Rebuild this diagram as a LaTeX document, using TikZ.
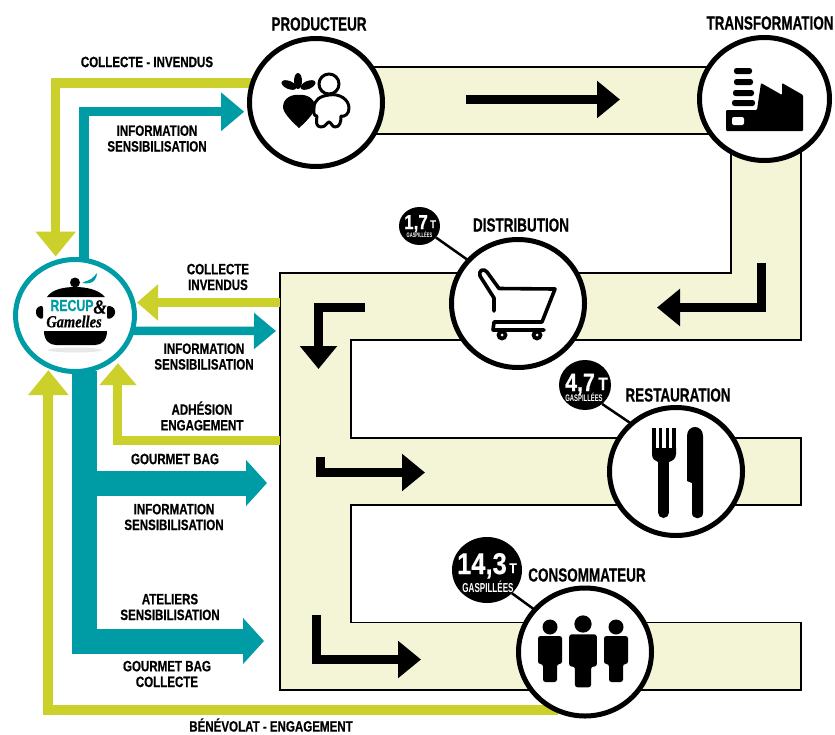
\documentclass[tikz,border=0pt]{standalone}
\usepackage{fontspec}
\usetikzlibrary{arrows.meta,backgrounds,shapes.geometric}
\newfontfamily\labelfont{Liberation Sans}[FakeStretch=0.77,FakeBold=0.5]
\newfontfamily\titlefont{Liberation Sans}[FakeStretch=0.71,FakeBold=0.5]
\newfontfamily\digitfont{Liberation Sans}[FakeStretch=0.85,FakeBold=0.5]
\newfontfamily\gaspifont{Liberation Sans}[FakeStretch=0.62]
\newfontfamily\gamellefont{Liberation Serif}[FakeStretch=0.85,FakeBold=0.5]
\definecolor{recupolive}{HTML}{CBD02A}
\definecolor{recupteal}{HTML}{009CA6}
\definecolor{recupcream}{HTML}{F4F5D7}
\tikzset{
  etape/.style={ellipse,draw=black,fill=white,line width=5pt,minimum width=133pt,minimum height=128pt,inner sep=0pt,outer sep=0pt},
  logorond/.style={ellipse,draw=recupteal,fill=white,line width=5pt,minimum width=119pt,minimum height=112pt,inner sep=0pt,outer sep=0pt},
  badge/.style={ellipse,fill=black,inner sep=0pt,outer sep=0pt},
  lbl/.style={font=\labelfont\bfseries\fontsize{15}{15.7}\selectfont,align=center,inner sep=0pt},
  titre/.style={font=\titlefont\bfseries\fontsize{19}{19}\selectfont,inner sep=0pt},
  chiffre/.style={text=white,anchor=base,inner sep=0pt,font=\digitfont\bfseries\fontsize{#1}{#1}\selectfont},
  gaspi/.style={text=white,anchor=base,inner sep=0pt,font=\gaspifont\bfseries\fontsize{#1}{#1}\selectfont},
  olivearrow/.style={draw=recupolive,line width=9.5pt,-{Triangle[length=25pt,width=39pt]}},
  tealarrow/.style={draw=recupteal,line width=9.5pt,-{Triangle[length=23pt,width=37pt]}},
  tealthick/.style={draw=recupteal,line width=25pt,-{Triangle[length=21pt,width=45pt]}},
  flowarrow/.style={draw=black,line width=9pt,-{Triangle[length=23pt,width=36pt]}},
}
\begin{document}
\begin{tikzpicture}[x=1pt,y=-1pt]
\useasboundingbox (0,0) rectangle (835,734);

\node[etape] (producteur) at (316,102.5) {};
\node[etape,minimum width=130pt,minimum height=123pt] (transformation) at (764.5,99) {};
\node[etape] (distribution) at (518,303.5) {};
\node[etape] (restauration) at (676,471.5) {};
\node[etape] (consommateur) at (585,652) {};
\node[logorond] (logo) at (75,315.5) {};
\node[badge,minimum width=41pt,minimum height=38pt] (badgeDistribution) at (419.5,226) {};
\node[badge,minimum width=52pt,minimum height=50pt] (badgeRestauration) at (585,385) {};
\node[badge,minimum width=70pt,minimum height=66pt] (badgeConsommateur) at (487,570) {};

\coordinate (chanCollecte) at (280,302.5);
\coordinate (chanInfo) at (276,331);
\coordinate (chanAdhesion) at (280,440.5);
\coordinate (chanGourmet) at (267,483);
\coordinate (chanAteliers) at (264,641);

\begin{scope}[on background layer]
\draw[fill=recupcream,line width=1.8pt] (316,67) -- (765,67) -- (801,67) -- (801,340) -- (351,340) -- (351,438) -- (801,438) -- (801,505) -- (351,505) -- (351,622.5) -- (801,622.5) -- (801,690) -- (280,690) -- (280,273) -- (731,273) -- (731,134) -- (316,134) -- cycle;
\draw[olivearrow,shorten >=6pt] (producteur.163) -| (logo.110);
\draw[tealarrow,shorten >=6pt] (logo.81) |- (producteur.188);
\draw[olivearrow,line width=9pt,-{Triangle[length=21pt,width=35pt]},shorten >=2.5pt] (chanCollecte) -- (chanCollecte -| logo.east);
\draw[tealarrow,line width=8.5pt,-{Triangle[length=22pt,width=35pt]}] (logo.345) -- (chanInfo);
\draw[olivearrow,line width=9pt,-{Triangle[length=22pt,width=36pt]},shorten >=9pt] (chanAdhesion) -| (logo.318);
\draw[olivearrow,line width=10pt,shorten >=4.5pt] (consommateur.245) -| (logo.242);
\draw[tealthick] (logo.280) |- (chanAteliers);
\draw[tealthick] (chanGourmet -| logo.280) -- (chanGourmet);
\end{scope}

\coordinate (flowA) at (466,99.5);
\coordinate (flowB) at (620,99.5);
\draw[flowarrow] (flowA) -- (flowB);
\coordinate (flowC) at (761.5,263);
\coordinate (flowD) at (657,307.5);
\draw[flowarrow] (flowC) |- (flowD);
\coordinate (flowE) at (365,307.5);
\coordinate (flowF) at (318.5,369);
\draw[flowarrow] (flowE) -| (flowF);
\coordinate (flowG) at (320.5,457);
\coordinate (flowH) at (425,472.5);
\draw[flowarrow] (flowG) |- (flowH);
\coordinate (flowI) at (316.5,615);
\coordinate (flowJ) at (421,659.5);
\draw[flowarrow] (flowI) |- (flowJ);

\draw[line width=2.5pt] (badgeDistribution.325) -- (distribution.139);
\draw[line width=2.5pt] (badgeRestauration.312) -- (restauration.133);
\draw[line width=2.5pt] (badgeConsommateur.317) -- (consommateur.140);

\node[lbl] (lblCollecteHaut) at (147,62) {COLLECTE - INVENDUS};
\node[lbl] (lblInfoHaut) at (157,138.5) {INFORMATION\\SENSIBILISATION};
\node[lbl] (lblCollecte) at (218,277) {COLLECTE\\INVENDUS};
\node[lbl] (lblInfo) at (204,356.5) {INFORMATION\\SENSIBILISATION};
\node[lbl] (lblAdhesion) at (202,416) {ADHÉSION\\ENGAGEMENT};
\node[lbl] (lblGourmet) at (175,459) {GOURMET BAG};
\node[lbl] (lblInfoBas) at (174,517) {INFORMATION\\SENSIBILISATION};
\node[lbl] (lblAteliers) at (170,607) {ATELIERS\\SENSIBILISATION};
\node[lbl] (lblCollecteBas) at (167,674) {GOURMET BAG\\COLLECTE};
\node[lbl] (lblBenevolat) at (271,725) {BÉNÉVOLAT - ENGAGEMENT};

\node[titre] (titreProducteur) at (319,24) {PRODUCTEUR};
\node[titre] (titreTransformation) at (770,23) {TRANSFORMATION};
\node[titre] (titreDistribution) at (521,225) {DISTRIBUTION};
\node[titre] (titreRestauration) at (678,395) {RESTAURATION};
\node[titre] (titreConsommateur) at (587,575) {CONSOMMATEUR};

\node[chiffre=20] (chiffreDistribution) at (416,229) {1,7};
\node[chiffre=11] (tonneDistribution) at (433,228) {T};
\node[gaspi=6.5] (gaspiDistribution) at (419.5,237) {GASPILLÉES};
\node[chiffre=25] (chiffreRestauration) at (580,391) {4,7};
\node[chiffre=18] (tonneRestauration) at (603,390) {T};
\node[gaspi=9.5] (gaspiRestauration) at (584,401) {GASPILLÉES};
\node[chiffre=30] (chiffreConsommateur) at (482,574) {14,3};
\node[chiffre=14] (tonneConsommateur) at (513,573) {T};
\node[gaspi=13] (gaspiConsommateur) at (488,592) {GASPILLÉES};

% betterave et bebe
\fill (299,128) .. controls (290,120) and (283,112) .. (283,107) .. controls (283,98) and (292,94) .. (299,95) .. controls (306,94) and (315,98) .. (315,107) .. controls (315,112) and (308,120) .. (299,128) -- cycle;
\fill (298,81) ellipse (4 and 8);
\fill[rotate around={-23:(289,85)}] (289,85) ellipse (8 and 4);
\fill[rotate around={23:(308,85)}] (308,85) ellipse (8 and 4);
\draw[line width=3pt,fill=white] (329,84) circle (10);
\draw[line width=3pt,fill=white,line join=round] (329,95) .. controls (340,93) and (349,100) .. (349,108) .. controls (349,114) and (345,117) .. (341,116) .. controls (341,122) and (340,127) .. (335,127) .. controls (332,127) and (331,122) .. (329,122) .. controls (327,122) and (326,127) .. (321,127) .. controls (316,127) and (316,122) .. (317,116) .. controls (313,116) and (314,112) .. (314,108) .. controls (314,100) and (320,96) .. (329,95) -- cycle;

% usine
\fill[rounded corners=1pt] (726,110) -- (757,110) -- (761,83) -- (782,95) -- (782,83) -- (803,95) -- (803,131) -- (726,131) -- cycle;
\fill[white,rounded corners=2pt] (732,117) rectangle (744,125);
\foreach \sx/\sy/\sw in {734/71/18,734/82/19,733/93/21,732/103/23}
  \fill[rounded corners=2.5pt] (\sx,\sy-3) rectangle ++(\sw,6);

% caddie
\draw[line width=3.6pt,line join=round,line cap=round] (494,311) -- (494,298) -- (480,276) .. controls (478,270) and (484,268) .. (487,272) -- (499,288.5) -- (555,289) -- (542,322) -- (494,322) -- (493,330) -- (544,330);
\fill (502,335) circle (5.5);
\fill (537,335) circle (5.5);
\fill[white] (502,335) circle (1.5);
\fill[white] (537,335) circle (1.5);

% couverts
\foreach \tx in {652,658.8,665.6,672.4}
  \fill (\tx,428) rectangle ++(3.6,22);
\fill (652,448) -- (676,448) -- (676,454) .. controls (676,459) and (672,461) .. (669,462) -- (658,462) .. controls (655,461) and (652,459) .. (652,454) -- cycle;
\draw[line width=11pt,line cap=round] (663.5,458) -- (663.5,512.5);
\fill (687,436) .. controls (687,430) and (691,427) .. (695,427) .. controls (699,427) and (703,430) .. (703,436) -- (703,513) .. controls (703,520) and (692,520) .. (692,513) -- (692,483) -- (687,481) -- cycle;

% personnes
\foreach \cx/\cy/\sc in {550/627/1,583/624/1.15,616/627/1}{
  \begin{scope}[shift={(\cx,\cy)},scale=\sc]
  \fill (0,0) circle (7.5);
  \fill[rounded corners=2.5pt] (-12,9) -- (12,9) -- (12,37) -- (7,37) -- (7,55) -- (-7,55) -- (-7,37) -- (-12,37) -- cycle;
  \end{scope}
}

% marmite
\fill[gray!18] (75,350) ellipse (27 and 2.5);
\fill (75,282.5) circle (5);
\fill (47,297) .. controls (52,289) and (65,287) .. (75,287) .. controls (85,287) and (98,289) .. (105,297) -- cycle;
\fill[rounded corners=3pt] (43,305) -- (36,308) -- (36,316) -- (43,320) -- cycle;
\fill[rounded corners=3pt] (107,305) -- (115,308) -- (115,316) -- (107,320) -- cycle;
\fill (44,331) -- (107,331) .. controls (107,340) and (102,345) .. (95,345) -- (56,345) .. controls (49,345) and (44,340) .. (44,331) -- cycle;
\fill[recupteal] (82,283) .. controls (87,280) and (89,281) .. (91,279) .. controls (93,277) and (95,276) .. (97,273) .. controls (97,278) and (94,282) .. (90,283) .. controls (87,284) and (85,283) .. (82,283) -- cycle;
\node[inner sep=0pt,text=recupteal,font=\labelfont\bfseries\fontsize{16}{16}\selectfont] (logoRecup) at (72,305.5) {RECUP};
\node[inner sep=0pt,font=\gamellefont\bfseries\itshape\fontsize{20}{20}\selectfont] (logoEt) at (100,307) {\&};
\node[inner sep=0pt,font=\gamellefont\bfseries\itshape\fontsize{17}{17}\selectfont] (logoGamelles) at (74,321.5) {Gamelles};
\end{tikzpicture}
\end{document}
